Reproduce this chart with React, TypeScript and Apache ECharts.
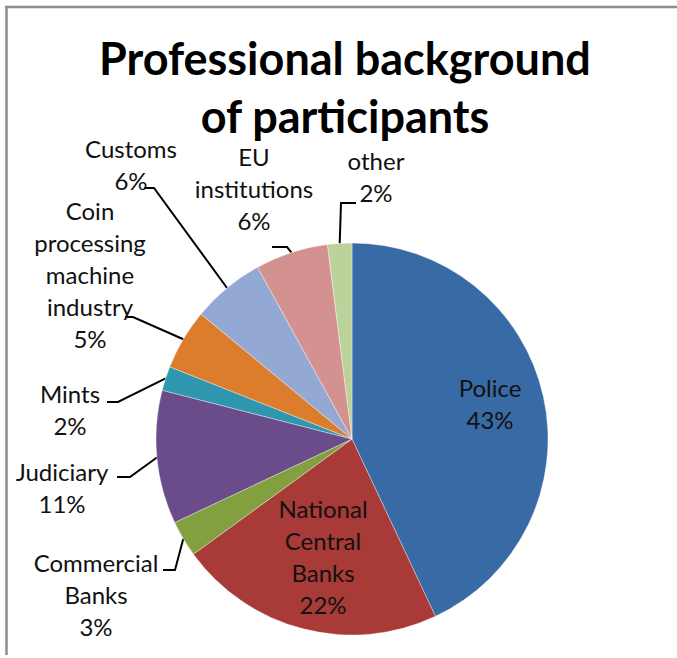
import React, { useEffect, useRef } from 'react';
import * as echarts from 'echarts';

const titleText = 'Professional background\nof participants';
const categories = [
  'Police',
  'National\nCentral\nBanks',
  'Commercial\nBanks',
  'Judiciary',
  'Mints',
  'Coin\nprocessing\nmachine\nindustry',
  'Customs',
  'EU\ninstitutions',
  'other',
];
const shares = [43, 22, 3, 11, 2, 5, 6, 6, 2];
const sliceColors = [
  '#386AA5',
  '#A83A37',
  '#82A040',
  '#6A4C8B',
  '#2E96AE',
  '#DC7D2D',
  '#93A9D3',
  '#D39290',
  '#BBD39A',
];
const insideLabels = [true, true, false, false, false, false, false, false, false];

// label placement (text centre, leader elbow and end)
const labelSpots: { x: number; y: number; elbow?: number[]; end?: number[] }[] = [
  { x: 490, y: 403 },
  { x: 323, y: 556 },
  { x: 96, y: 594, elbow: [175, 570], end: [163, 570] },
  { x: 62, y: 487, elbow: [130, 477], end: [117, 477] },
  { x: 70, y: 409, elbow: [118, 402], end: [107, 402] },
  { x: 90, y: 274, elbow: [133, 317], end: [125, 317] },
  { x: 131, y: 164, elbow: [154, 188], end: [144, 188] },
  { x: 254, y: 188, elbow: [287, 247], end: [272, 247] },
  { x: 376, y: 176, elbow: [341, 203], end: [356, 203] },
];

const FONT = 'Lato, "Noto Sans", "DejaVu Sans", sans-serif';

export default function App() {
  const ref = useRef<HTMLDivElement>(null);
  useEffect(() => {
    if (!ref.current) return;
    const chart = echarts.init(ref.current, null, { renderer: 'svg' });
    const data = categories.map((name, i) => ({
      name,
      value: shares[i],
      itemStyle: { color: sliceColors[i] },
      label: { position: insideLabels[i] ? 'inside' : 'outside' },
      labelLine: { show: !insideLabels[i] },
    }));
    chart.setOption({
      animation: false,
      backgroundColor: '#ffffff',
      graphic: [
        {
          type: 'line',
          shape: { x1: 5, y1: 7, x2: 677, y2: 7 },
          style: { stroke: '#8c8c8c', lineWidth: 2.5 },
        },
        {
          type: 'line',
          shape: { x1: 6.5, y1: 6, x2: 6.5, y2: 655 },
          style: { stroke: '#8c8c8c', lineWidth: 2.5 },
        },
        {
          type: 'text',
          x: 345,
          y: 87,
          style: {
            text: titleText,
            align: 'center',
            verticalAlign: 'middle',
            fontFamily: FONT,
            fontWeight: 'bold',
            fontSize: 45,
            lineHeight: 58,
            fill: '#000000',
          },
        },
      ],
      series: [
        {
          type: 'pie',
          center: [352, 439],
          radius: 196,
          startAngle: 90,
          clockwise: true,
          avoidLabelOverlap: false,
          data,
          itemStyle: { borderColor: 'rgba(255,255,255,0.6)', borderWidth: 0.6 },
          label: {
            show: true,
            formatter: (p: any) => `${p.name}\n${p.value}%`,
            color: '#111111',
            fontFamily: FONT,
            fontSize: 24,
            lineHeight: 32,
            align: 'center',
          },
          labelLine: {
            show: true,
            lineStyle: { color: '#000000', width: 2 },
          },
          labelLayout: (params: any) => {
            const s = labelSpots[params.dataIndex];
            const out: any = { x: s.x, y: s.y, align: 'center', verticalAlign: 'middle' };
            if (s.elbow && s.end && params.labelLinePoints && params.labelLinePoints[0]) {
              out.labelLinePoints = [params.labelLinePoints[0], s.elbow, s.end];
            }
            return out;
          },
        },
      ],
    });
    return () => chart.dispose();
  }, []);
  return (
    <div
      ref={ref}
      style={{ position: 'fixed', left: 0, top: 0, width: 677, height: 658 }}
    />
  );
}
